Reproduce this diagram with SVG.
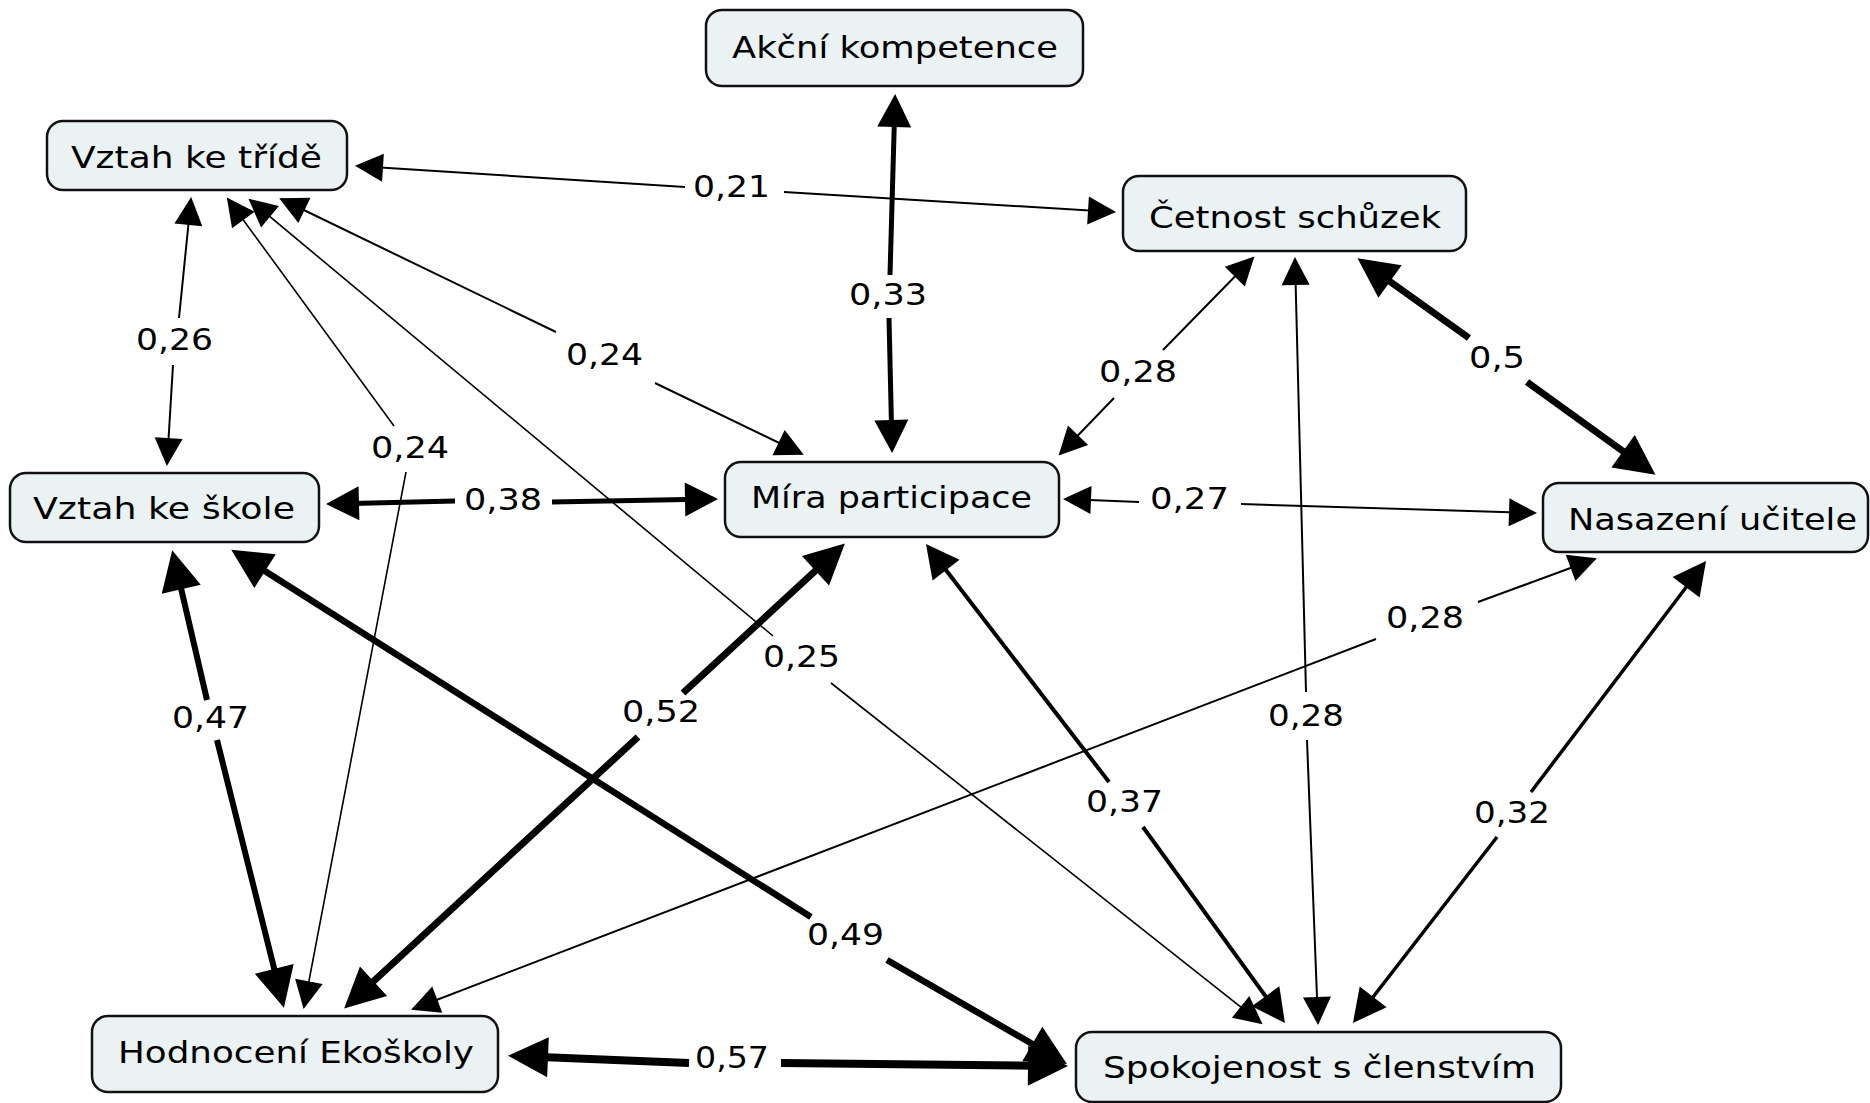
<svg xmlns="http://www.w3.org/2000/svg" width="1870" height="1103" viewBox="0 0 1870 1103">
<style>
.node rect{fill:#ebf2f4;stroke:#111;stroke-width:2.5}
text{font-family:"DejaVu Sans","Liberation Sans",sans-serif;font-size:31px;fill:#000;text-anchor:middle}
.c path{fill:none;stroke:#000}
</style>
<defs>
<marker id="s" markerUnits="userSpaceOnUse" markerWidth="28" markerHeight="28" refX="26" refY="14" orient="auto-start-reverse" overflow="visible"><path d="M0,0 L28,14 L0,28 Z" fill="#000"/></marker>
<marker id="m" markerUnits="userSpaceOnUse" markerWidth="33" markerHeight="34" refX="28" refY="17" orient="auto-start-reverse" overflow="visible"><path d="M0,0 L33,17 L0,34 Z" fill="#000"/></marker>
<marker id="b" markerUnits="userSpaceOnUse" markerWidth="40" markerHeight="40" refX="32" refY="20" orient="auto-start-reverse" overflow="visible"><path d="M0,0 L40,20 L0,40 Z" fill="#000"/></marker>
</defs>
<rect width="1870" height="1103" fill="#fff"/>
<g id="connectors" class="c">
<path id="e021" d="M357,166 L685,187 M784,192 L1114,212" stroke-width="2" marker-start="url(#s)" marker-end="url(#s)"/>
<path id="e033" d="M895,99 L890,275 M889,318 L892,448" stroke-width="5" marker-start="url(#m)" marker-end="url(#m)"/>
<path id="e026" d="M191,199 L179,318 M173,365 L167,464" stroke-width="2" marker-start="url(#s)" marker-end="url(#s)"/>
<path id="e024a" d="M281,199 L556,332 M655,383 L802,454" stroke-width="2" marker-start="url(#s)" marker-end="url(#s)"/>
<path id="e024b" d="M228,199 L394,426 M406,472 L304,1007" stroke-width="1.6" marker-start="url(#s)" marker-end="url(#s)"/>
<path id="e025" d="M250,200 L773,636 M831,683 L1261,1023" stroke-width="1.6" marker-start="url(#s)" marker-end="url(#s)"/>
<path id="e028a" d="M1253,258 L1163,350 M1114,398 L1060,454" stroke-width="2" marker-start="url(#s)" marker-end="url(#s)"/>
<path id="e028b" d="M1295,259 L1306,692 M1307,740 L1318,1023" stroke-width="2" marker-start="url(#s)" marker-end="url(#s)"/>
<path id="e05" d="M1364,263 L1469,338 M1527,382 L1649,470" stroke-width="7" marker-start="url(#b)" marker-end="url(#b)"/>
<path id="e038" d="M331,504 L455,501 M552,502 L713,499" stroke-width="5" marker-start="url(#m)" marker-end="url(#m)"/>
<path id="e027" d="M1065,499 L1139,502 M1241,504 L1535,513" stroke-width="2" marker-start="url(#s)" marker-end="url(#s)"/>
<path id="e028c" d="M1595,559 L1478,602 M1376,639 L413,1009" stroke-width="2" marker-start="url(#s)" marker-end="url(#s)"/>
<path id="e032" d="M1703,565 L1531,792 M1497,837 L1356,1019" stroke-width="3.5" marker-start="url(#m)" marker-end="url(#m)"/>
<path id="e047" d="M174,558 L207,700 M217,740 L282,1000" stroke-width="6" marker-start="url(#b)" marker-end="url(#b)"/>
<path id="e049" d="M238,554 L811,917 M887,960 L1060,1060" stroke-width="6.5" marker-start="url(#b)" marker-end="url(#b)"/>
<path id="e052" d="M839,549 L683,693 M638,737 L350,1003" stroke-width="7" marker-start="url(#b)" marker-end="url(#b)"/>
<path id="e037" d="M929,548 L1109,782 M1143,827 L1282,1019" stroke-width="4" marker-start="url(#m)" marker-end="url(#m)"/>
<path id="e057" d="M516,1056 L689,1063 M781,1063 L1060,1066" stroke-width="8" marker-start="url(#b)" marker-end="url(#b)"/>
</g>
<g id="labels">
<text x="731.5" y="197" textLength="77" lengthAdjust="spacingAndGlyphs">0,21</text>
<text x="888" y="305" textLength="78" lengthAdjust="spacingAndGlyphs">0,33</text>
<text x="174.5" y="350" textLength="77" lengthAdjust="spacingAndGlyphs">0,26</text>
<text x="604.5" y="365" textLength="77" lengthAdjust="spacingAndGlyphs">0,24</text>
<text x="410" y="458" textLength="78" lengthAdjust="spacingAndGlyphs">0,24</text>
<text x="801.5" y="667" textLength="77" lengthAdjust="spacingAndGlyphs">0,25</text>
<text x="1138" y="382" textLength="78" lengthAdjust="spacingAndGlyphs">0,28</text>
<text x="1306" y="726" textLength="76" lengthAdjust="spacingAndGlyphs">0,28</text>
<text x="1497" y="368" textLength="56" lengthAdjust="spacingAndGlyphs">0,5</text>
<text x="503" y="510" textLength="78" lengthAdjust="spacingAndGlyphs">0,38</text>
<text x="1189.5" y="509" textLength="79" lengthAdjust="spacingAndGlyphs">0,27</text>
<text x="1425" y="628" textLength="78" lengthAdjust="spacingAndGlyphs">0,28</text>
<text x="1512" y="823" textLength="76" lengthAdjust="spacingAndGlyphs">0,32</text>
<text x="210.5" y="728" textLength="77" lengthAdjust="spacingAndGlyphs">0,47</text>
<text x="845.5" y="945" textLength="77" lengthAdjust="spacingAndGlyphs">0,49</text>
<text x="661" y="722" textLength="78" lengthAdjust="spacingAndGlyphs">0,52</text>
<text x="1124.5" y="812" textLength="77" lengthAdjust="spacingAndGlyphs">0,37</text>
<text x="732" y="1068" textLength="74" lengthAdjust="spacingAndGlyphs">0,57</text>
</g>
<g id="n-akcni" class="node"><rect x="706" y="10" width="377" height="76" rx="16"/><text x="895" y="58" textLength="326" lengthAdjust="spacingAndGlyphs">Akční kompetence</text></g>
<g id="n-trida" class="node"><rect x="47" y="121" width="300" height="69" rx="16"/><text x="196.5" y="168" textLength="251" lengthAdjust="spacingAndGlyphs">Vztah ke třídě</text></g>
<g id="n-cetnost" class="node"><rect x="1123" y="176" width="343" height="75" rx="16"/><text x="1295" y="228" textLength="292" lengthAdjust="spacingAndGlyphs">Četnost schůzek</text></g>
<g id="n-skola" class="node"><rect x="10" y="473" width="309" height="69" rx="16"/><text x="164" y="519" textLength="262" lengthAdjust="spacingAndGlyphs">Vztah ke škole</text></g>
<g id="n-mira" class="node"><rect x="725" y="462" width="334" height="75" rx="16"/><text x="891.5" y="508" textLength="281" lengthAdjust="spacingAndGlyphs">Míra participace</text></g>
<g id="n-nasazeni" class="node"><rect x="1543" y="483" width="325" height="69" rx="16"/><text x="1712.5" y="530" textLength="289" lengthAdjust="spacingAndGlyphs">Nasazení učitele</text></g>
<g id="n-hodnoceni" class="node"><rect x="92" y="1016" width="406" height="76" rx="16"/><text x="296" y="1063" textLength="356" lengthAdjust="spacingAndGlyphs">Hodnocení Ekoškoly</text></g>
<g id="n-spokojenost" class="node"><rect x="1076" y="1032" width="485" height="70" rx="16"/><text x="1319.5" y="1078" textLength="433" lengthAdjust="spacingAndGlyphs">Spokojenost s členstvím</text></g>
</svg>
